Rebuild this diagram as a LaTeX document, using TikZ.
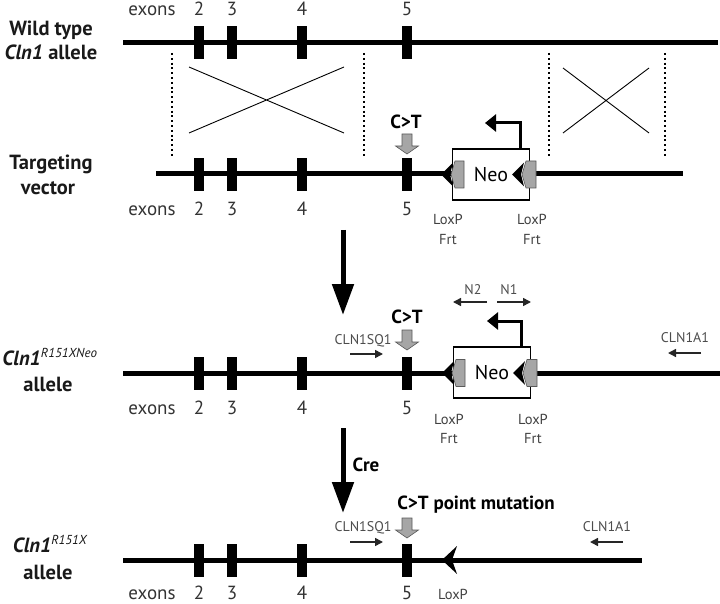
\documentclass[tikz,border=0pt]{standalone}
\usepackage{fontspec}
\setmainfont{PT Sans}
\usetikzlibrary{arrows.meta}
\tikzset{
  dna/.style={line width=5pt},
  exon/.style={fill=black,inner sep=0pt,minimum width=10pt,minimum height=33pt},
  num/.style={anchor=base,text=black!80,inner sep=0pt,font=\fontsize{19}{19}\selectfont},
  tag/.style={anchor=base,text=black!70,inner sep=0pt,font=\fontsize{14}{14}\selectfont},
  lox/.style={anchor=base,text=black!75,inner sep=0pt,font=\fontsize{14.5}{14.5}\selectfont},
  rowname/.style={anchor=base,text=black!90,inner sep=0pt,font=\bfseries\fontsize{20.5}{20.5}\selectfont},
  mut/.style={anchor=base,inner sep=0pt,font=\bfseries\fontsize{19}{19}\selectfont},
  cross/.style={line width=0.9pt},
  homol/.style={line width=2pt,dash pattern=on 2pt off 2.8pt},
  primer/.style={line width=1.5pt,black!85,-{Triangle[length=8pt,width=8pt]}},
  promo/.style={line width=3pt,-{Triangle[length=11pt,width=17pt]}},
  bigarrow/.style={line width=5pt,-{Triangle[length=31pt,width=21pt]}},
  neobox/.style={draw,line width=1.3pt,fill=white,inner sep=0pt,minimum width=77pt,minimum height=51pt,font=\fontsize{20}{20}\selectfont},
  frt/.style={fill=black!35,draw=black!65,line width=0.6pt},
}
\newcommand{\supx}[1]{\textsuperscript{\mdseries\itshape\fontsize{13}{13}\selectfont #1}}
\begin{document}
\begin{tikzpicture}[x=1pt,y=-1pt]
  \useasboundingbox (0,0) rectangle (720,604);
  % row labels
  \node[rowname] (wtA) at (51,36) {Wild type};
  \node[rowname] (wtB) at (51,60) {\textit{Cln1} allele};
  \node[rowname] (tvA) at (51,170) {Targeting};
  \node[rowname] (tvB) at (48,195) {vector};
  \node[rowname] (neA) at (50,365) {\textit{Cln1}\supx{R151XNeo}};
  \node[rowname] (neB) at (48,391) {allele};
  \node[rowname] (pmA) at (50,552) {\textit{Cln1}\supx{R151X}};
  \node[rowname] (pmB) at (48,579) {allele};
  % dna strands
  \coordinate (wtL) at (123,43);  \coordinate (wtR) at (718,43);
  \coordinate (tvL) at (156,174); \coordinate (tvR) at (683,174);
  \coordinate (neL) at (123,373); \coordinate (neR) at (720,373);
  \coordinate (pmL) at (123,560); \coordinate (pmR) at (642,560);
  \draw[dna] (wtL) -- (wtR);
  \draw[dna] (tvL) -- (tvR);
  \draw[dna] (neL) -- (neR);
  \draw[dna] (pmL) -- (pmR);
  \foreach \x [count=\i from 2] in {199,232,302,407}{%
    \node[exon] (wt\i) at (\x,42.5) {};
    \node[exon] (tv\i) at (\x,174.5) {};
    \node[exon] (ne\i) at (\x,373.5) {};
    \node[exon] (pm\i) at (\x,560.5) {};
  }
  % exon numbers
  \foreach \y/\r in {16/wt,215/tv,414/ne,599/pm}{%
    \node[num] (\r-ex) at (152,\y) {exons};
    \foreach \x [count=\i from 2] in {199,232,302,407}
      \node[num] (\r-n\i) at (\x,\y) {\i};
  }
  % homologous arms
  \foreach \x in {172,364,549,665}
    \draw[homol] (\x,53) -- (\x,156);
  \draw[cross] (189,67) -- (344,133) (189,133) -- (344,67);
  \draw[cross] (563,68) -- (649,133) (563,133) -- (649,68);
  % neo cassettes
  \node[neobox] (neoA) at (491,174.5) {Neo};
  \node[neobox] (neoB) at (492,372.5) {Neo};
  \foreach \c/\d in {174.5/0,373/1}{%
    \fill ({441+\d},\c) -- ({453+\d},\c-12) -- ({450+\d},\c) -- ({453+\d},\c+12) -- cycle;
    \fill ({512+\d},\c) -- ({524+\d},\c-12) -- ({521+\d},\c) -- ({524+\d},\c+12) -- cycle;
    \draw[frt] ({451+\d},\c) -- ({455+\d},\c-13.5) -- ({464+\d},\c-13.5) -- ({464+\d},\c+13.5) -- ({455+\d},\c+13.5) -- cycle;
    \draw[frt] ({522+\d},\c) -- ({526+\d},\c-13.5) -- ({536+\d},\c-13.5) -- ({536+\d},\c+13.5) -- ({526+\d},\c+13.5) -- cycle;
  }
  \fill (442,560) -- (457,546) -- (452,560) -- (457,574) -- cycle;
  \coordinate (pA) at (520,123); \coordinate (qA) at (485,123);
  \coordinate (pB) at (521,321); \coordinate (qB) at (487,321);
  \draw[promo] (pA |- neoA.north) -- (pA) -- (qA);
  \draw[promo] (pB |- neoB.north) -- (pB) -- (qB);
  \foreach \y/\x in {225/448,225/532,424/449,424/533}
    \node[lox] (lx\y\x) at (\x,\y) {LoxP};
  \foreach \y/\x in {244/448,244/532,443/449,443/533}
    \node[lox] (ft\y\x) at (\x,\y) {Frt};
  \node[lox] (lxpm) at (453,599) {LoxP};
  % point mutation
  \foreach \t in {134,330,518}
    \draw[frt] (402,\t) -- (412,\t) -- (412,\t+12) -- (418.5,\t+12) -- (407,\t+20)
      -- (395.5,\t+12) -- (402,\t+12) -- cycle;
  \node[mut] (ctA) at (406,128.5) {C>T};
  \node[mut] (ctB) at (407,323.5) {C>T};
  \node[mut] (ctC) at (476,509) {C>T point mutation};
  % primers
  \node[tag] (sqA) at (363,344) {CLN1SQ1};
  \node[tag] (sqB) at (363,531) {CLN1SQ1};
  \node[tag] (aaA) at (685,342) {CLN1A1};
  \node[tag] (aaB) at (607,531) {CLN1A1};
  \node[tag] (nn2) at (473,294) {N2};
  \node[tag] (nn1) at (509,294) {N1};
  \coordinate (s1) at (350,354); \coordinate (s2) at (383,354);
  \coordinate (s3) at (350,542); \coordinate (s4) at (383,542);
  \coordinate (a1) at (701,353); \coordinate (a2) at (668,353);
  \coordinate (a3) at (623,542); \coordinate (a4) at (590,542);
  \coordinate (n2a) at (487,302); \coordinate (n2b) at (453,302);
  \coordinate (n1a) at (497,302); \coordinate (n1b) at (531,302);
  \draw[primer] (s1) -- (s2);
  \draw[primer] (s3) -- (s4);
  \draw[primer] (a1) -- (a2);
  \draw[primer] (a3) -- (a4);
  \draw[primer] (n2a) -- (n2b);
  \draw[primer] (n1a) -- (n1b);
  % recombination steps
  \coordinate (st1) at (343,230); \coordinate (st2) at (343,315);
  \coordinate (st3) at (343,428); \coordinate (st4) at (343,513);
  \draw[bigarrow] (st1) -- (st2);
  \draw[bigarrow] (st3) -- (st4);
  \node[mut] (cre) at (366,471) {Cre};
\end{tikzpicture}
\end{document}
